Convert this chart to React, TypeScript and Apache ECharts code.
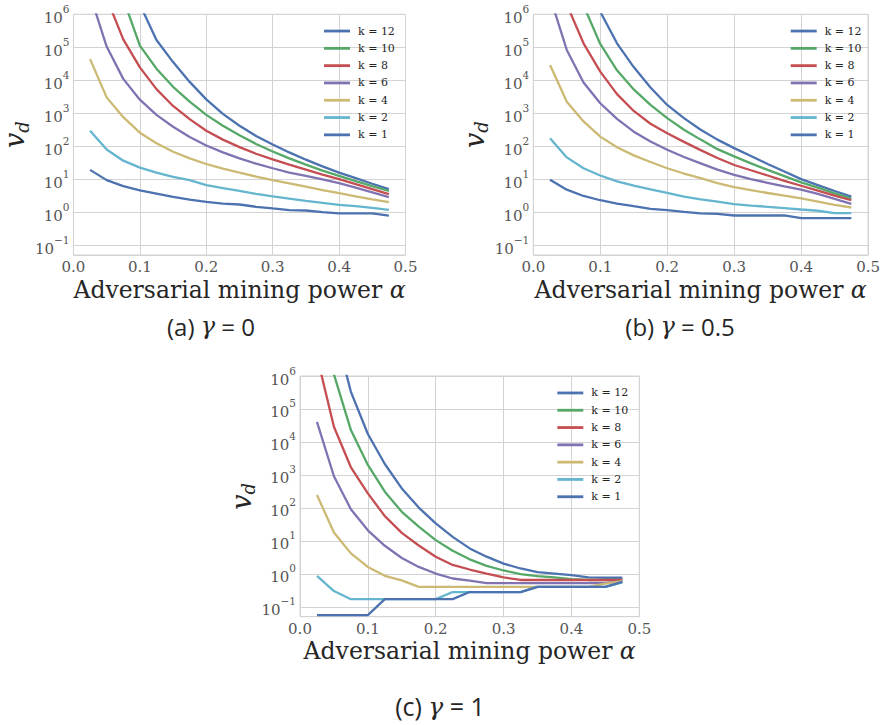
import React, { useEffect, useRef } from 'react';
import * as echarts from 'echarts';

const alphas = [0.025, 0.05, 0.075, 0.1, 0.125, 0.15, 0.175, 0.2, 0.225, 0.25, 0.275, 0.3, 0.325, 0.35, 0.375, 0.4, 0.425, 0.45, 0.475];
const kNames = ['k = 12', 'k = 10', 'k = 8', 'k = 6', 'k = 4', 'k = 2', 'k = 1'];
const kColors = ['#4C72B0', '#55A868', '#C44E52', '#8172B2', '#CCB974', '#64B5CD', '#4C72B0'];
const panelTags = ['(a)', '(b)', '(c)'];
const gammaValues = ['0', '0.5', '1'];
const xAxisTitle = 'Adversarial mining power ';
const xAxisSymbol = 'α';
const yAxisTitle = 'v';
const yAxisSub = 'd';

// gamma = 0
const g0k12 = [1e12, 2e9, 4e7, 2e6, 1.66e5, 3.55e4, 8910, 2630, 955, 417, 204, 112, 64.6, 38.9, 24.5, 15.8, 10.7, 7.24, 5.01];
const g0k10 = [1e11, 2e8, 2.95e6, 1.12e5, 2.24e4, 6310, 2240, 891, 417, 214, 117, 69.2, 42.7, 27.5, 18.2, 12.6, 8.71, 6.17, 4.37];
const g0k8 = [3.16e8, 3.09e6, 1.74e5, 2.45e4, 5370, 1660, 661, 295, 158, 93.3, 58.9, 39.8, 27.5, 19.5, 13.8, 10, 7.08, 5.01, 3.51];
const g0k6 = [3.89e6, 1.05e5, 1.1e4, 2570, 891, 389, 191, 105, 64.6, 42.7, 29.5, 21.4, 15.8, 12.6, 9.77, 7.59, 5.5, 3.98, 2.85];
const g0k4 = [43600, 3020, 759, 257, 123, 67.6, 42.7, 28.8, 20.9, 15.8, 12, 9.33, 7.41, 5.89, 4.68, 3.76, 3.02, 2.45, 2.0];
const g0k2 = [295, 79.4, 36.3, 22.4, 15.8, 11.7, 9.33, 6.61, 5.37, 4.37, 3.55, 3.02, 2.57, 2.19, 1.91, 1.66, 1.51, 1.35, 1.17];
const g0k1 = [19.1, 9.33, 6.17, 4.57, 3.63, 2.88, 2.4, 2.04, 1.82, 1.7, 1.45, 1.29, 1.15, 1.12, 1.0, 0.91, 0.91, 0.91, 0.78];

// gamma = 0.5
const g05k12 = [1e11, 1e9, 2e7, 1.2e6, 1.32e5, 2.51e4, 6030, 1780, 708, 316, 158, 87.1, 50.1, 28.8, 17, 10, 6.61, 4.37, 2.95];
const g05k10 = [3.16e10, 1e8, 1.86e6, 1.26e5, 2e4, 5250, 1780, 708, 316, 158, 81.3, 49, 30.2, 19.1, 12.3, 7.94, 5.5, 3.72, 2.57];
const g05k8 = [1e8, 2e6, 1.32e5, 1.82e4, 3800, 1170, 479, 245, 135, 75.9, 43.7, 26.9, 18.6, 12.9, 8.91, 6.31, 4.47, 3.16, 2.29];
const g05k6 = [3.39e6, 8.32e4, 8510, 2000, 676, 275, 138, 77.6, 46.8, 30.2, 19.5, 13.5, 10, 7.76, 6.03, 4.79, 3.55, 2.51, 1.78];
const g05k4 = [28800, 2240, 562, 195, 93.3, 52.5, 33.1, 21.4, 14.8, 10.7, 7.59, 5.75, 4.68, 3.8, 3.16, 2.63, 2.09, 1.66, 1.38];
const g05k2 = [174, 45.7, 21.4, 12.9, 8.51, 6.31, 4.9, 3.8, 2.95, 2.45, 2.09, 1.74, 1.58, 1.45, 1.32, 1.2, 1.1, 0.93, 0.93];
const g05k1 = [9.55, 4.79, 3.09, 2.29, 1.82, 1.51, 1.26, 1.15, 1.02, 0.91, 0.89, 0.79, 0.79, 0.79, 0.79, 0.66, 0.66, 0.66, 0.66];

// gamma = 1
const g1k12 = [1e10, 3.31e7, 3.31e5, 1.74e4, 2140, 389, 102, 33.9, 13.2, 5.89, 3.31, 2.04, 1.45, 1.12, 1.02, 0.91, 0.78, 0.76, 0.76];
const g1k10 = [3.16e8, 1.12e6, 2.29e4, 2000, 309, 75.9, 26.9, 10.5, 5.01, 2.75, 1.74, 1.26, 0.98, 0.85, 0.78, 0.69, 0.65, 0.65, 0.65];
const g1k8 = [3.98e6, 2.88e4, 1700, 275, 56.2, 17.4, 7.24, 3.31, 1.86, 1.35, 1.02, 0.78, 0.65, 0.65, 0.65, 0.65, 0.65, 0.65, 0.65];
const g1k6 = [4.07e4, 912, 91.2, 20.9, 7.08, 3.02, 1.62, 1.02, 0.72, 0.62, 0.52, 0.52, 0.52, 0.52, 0.52, 0.52, 0.52, 0.52, 0.6];
const g1k4 = [245, 17.8, 4.17, 1.62, 0.87, 0.63, 0.4, 0.4, 0.4, 0.4, 0.4, 0.4, 0.4, 0.4, 0.4, 0.4, 0.4, 0.5, 0.6];
const g1k2 = [0.87, 0.3, 0.17, 0.17, 0.17, 0.17, 0.17, 0.17, 0.28, 0.28, 0.28, 0.28, 0.28, 0.4, 0.4, 0.4, 0.4, 0.4, 0.55];
const g1k1 = [0.056, 0.056, 0.056, 0.056, 0.17, 0.17, 0.17, 0.17, 0.17, 0.28, 0.28, 0.28, 0.28, 0.4, 0.4, 0.4, 0.4, 0.4, 0.57];

const panels = [
  [g0k12, g0k10, g0k8, g0k6, g0k4, g0k2, g0k1],
  [g05k12, g05k10, g05k8, g05k6, g05k4, g05k2, g05k1],
  [g1k12, g1k10, g1k8, g1k6, g1k4, g1k2, g1k1],
];

const SERIF = 'DejaVu Serif';
const TEXT = '#262626';
const GRIDC = '#d3d3d3';

const gridRects = [
  { left: 66.5, top: 14.3, width: 339, height: 240.7 },
  { left: 533.3, top: 14.3, width: 340, height: 240.7 },
  { left: 300, top: 376, width: 339.3, height: 240.7 },
];
const legendPos = [
  { left: 324, top: 22.4 },
  { left: 790.7, top: 22.4 },
  { left: 557.3, top: 384.3 },
];
const captionPos = [
  { x: 211, y: 326, size: 24 },
  { x: 680, y: 326, size: 24 },
  { x: 440, y: 706, size: 25 },
];

function yLabel(v: number) {
  const e = Math.log10(v);
  const r = Math.round(e);
  if (Math.abs(e - r) > 1e-6) return '';
  const exp = r < 0 ? '\u2212' + -r : String(r);
  return '{b|10}{s|' + exp + '}';
}

export default function App() {
  const ref = useRef<HTMLDivElement>(null);
  useEffect(() => {
    if (!ref.current) return;
    const chart = echarts.init(ref.current, null, { renderer: 'svg' });
    const grids = gridRects.map((g) => ({
      ...g,
      show: true,
      borderColor: GRIDC,
      borderWidth: 1,
      backgroundColor: '#ffffff',
      containLabel: false,
    }));
    const xAxes = gridRects.map((_, i) => ({
      type: 'value',
      gridIndex: i,
      min: 0,
      max: 0.5,
      interval: 0.1,
      axisLine: { show: false },
      axisTick: { show: false },
      splitLine: { show: true, lineStyle: { color: GRIDC, width: 1 } },
      axisLabel: {
        margin: 4,
        color: '#555',
        fontFamily: SERIF,
        fontSize: 15,
        lineHeight: 16,
        formatter: (v: number) => v.toFixed(1),
      },
      name: '{t|' + xAxisTitle + '}{a|' + xAxisSymbol + '}',
      nameLocation: 'middle',
      nameGap: 21,
      nameTextStyle: {
        rich: {
          t: { fontFamily: SERIF, fontSize: 23.5, color: TEXT, lineHeight: 27 },
          a: { fontFamily: SERIF, fontSize: 23.5, fontStyle: 'italic', color: TEXT, lineHeight: 27 },
        },
      },
    }));
    const yAxes = gridRects.map((_, i) => ({
      type: 'log',
      logBase: 10,
      gridIndex: i,
      min: 0.05,
      max: 1e6,
      axisLine: { show: false },
      axisTick: { show: false },
      splitLine: { show: true, lineStyle: { color: GRIDC, width: 1 } },
      axisLabel: {
        margin: 4,
        formatter: yLabel,
        rich: {
          b: { fontFamily: SERIF, fontSize: 15, color: '#555', lineHeight: 22, verticalAlign: 'bottom' },
          s: { fontFamily: SERIF, fontSize: 10.5, color: '#555', lineHeight: 12, verticalAlign: 'top' },
        },
      },
      name: '{v|' + yAxisTitle + '}{d|' + yAxisSub + '}',
      nameLocation: 'middle',
      nameRotate: 90,
      nameGap: 36,
      nameTextStyle: {
        rich: {
          v: { fontFamily: SERIF, fontSize: 27, fontStyle: 'italic', color: TEXT, lineHeight: 30, verticalAlign: 'top' },
          d: { fontFamily: SERIF, fontSize: 18, fontStyle: 'italic', color: TEXT, lineHeight: 18, verticalAlign: 'bottom' },
        },
      },
    }));
    const series: any[] = [];
    panels.forEach((panel, i) => {
      panel.forEach((vals, j) => {
        series.push({
          type: 'line',
          name: kNames[j],
          xAxisIndex: i,
          yAxisIndex: i,
          data: alphas.map((a, n) => [a, vals[n]]),
          symbol: 'none',
          showSymbol: false,
          clip: true,
          z: 2 + j,
          lineStyle: { color: kColors[j], width: 2.3 },
          itemStyle: { color: kColors[j] },
        });
      });
    });
    const legends = legendPos.map((p) => ({
      ...p,
      orient: 'vertical',
      padding: 0,
      itemGap: 0,
      itemWidth: 26,
      itemHeight: 2.8,
      icon: 'rect',
      selectedMode: false,
      data: kNames.map((n) => ({ name: n, icon: 'rect' })),
      textStyle: { fontFamily: SERIF, fontSize: 11, color: TEXT, lineHeight: 17.3, padding: [0, 0, 0, 3] },
    }));
    const graphics = captionPos.map((c, i) => ({
      type: 'text',
      x: c.x,
      y: c.y,
      style: {
        text: '{r|' + panelTags[i] + ' }{g|γ}{r| = ' + gammaValues[i] + '}',
        align: 'center',
        verticalAlign: 'middle',
        rich: {
          r: { fontFamily: 'Open Sans', fontSize: c.size, fill: TEXT, color: TEXT },
          g: { fontFamily: SERIF, fontStyle: 'italic', fontSize: c.size, fill: TEXT, color: TEXT },
        },
      },
    }));
    chart.setOption({
      animation: false,
      backgroundColor: '#ffffff',
      grid: grids,
      xAxis: xAxes,
      yAxis: yAxes,
      legend: legends,
      series,
      graphic: graphics,
    } as any);
    return () => chart.dispose();
  }, []);
  return <div ref={ref} style={{ position: 'fixed', left: 0, top: 0, width: 883, height: 725 }} />;
}
